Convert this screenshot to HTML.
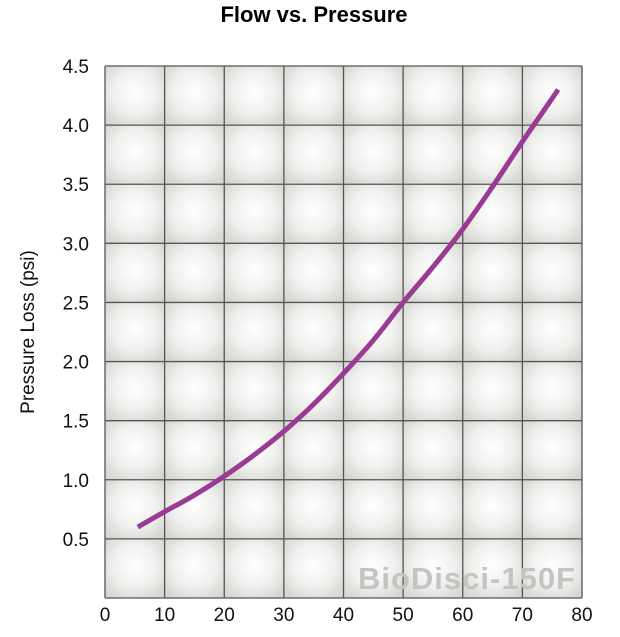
<!DOCTYPE html>
<html><head><meta charset="utf-8"><style>
body{margin:0;background:#fff;width:620px;height:637px;overflow:hidden}
svg{display:block}
</style></head><body>
<svg id="chart" width="620" height="637" xmlns="http://www.w3.org/2000/svg" font-family="Liberation Sans, sans-serif">
<defs>
<radialGradient id="cellg" cx="0.5" cy="0.45" r="0.65">
<stop offset="0" stop-color="#ffffff"/><stop offset="0.55" stop-color="#f0f0ee"/><stop offset="1" stop-color="#d6d6d3"/>
</radialGradient>
</defs>
<text x="314" y="22" text-anchor="middle" font-size="22" font-weight="bold" fill="#000">Flow vs. Pressure</text>
<g id="cells"></g>
<g id="grid"></g>
<text x="576" y="589" text-anchor="end" font-size="31" font-weight="bold" fill="#c4c4c2" letter-spacing="1">BioDisci-150F</text>
<g id="ticks"></g>
<path id="curve" fill="none" stroke="#993a93" stroke-width="5" stroke-linecap="butt"/>
<text transform="translate(34,332) rotate(-90)" text-anchor="middle" font-size="19" fill="#111">Pressure Loss (psi)</text>
</svg>
<script>
const xTicks=[0,10,20,30,40,50,60,70,80];
const yTicks=[0.5,1.0,1.5,2.0,2.5,3.0,3.5,4.0,4.5];
const flow=[5.5,10,15,20,25,30,35,40,45,50,55,60,65,70,73,76];
const pressure=[0.6,0.73,0.87,1.03,1.21,1.41,1.64,1.9,2.18,2.5,2.8,3.12,3.48,3.86,4.08,4.3];
const L=105,R=582,T=66,B=598,xMax=80,yMax=4.5;
const sx=v=>L+(R-L)*v/xMax, sy=v=>B-(B-T)*v/yMax;
const NS='http://www.w3.org/2000/svg';
const mk=(t,a,p)=>{const e=document.createElementNS(NS,t);for(const k in a)e.setAttribute(k,a[k]);p.appendChild(e);return e;};
const cells=document.getElementById('cells'),grid=document.getElementById('grid'),ticks=document.getElementById('ticks');
for(let i=0;i<8;i++)for(let j=0;j<9;j++){
 const r=mk('rect',{x:sx(i*10),y:sy((j+1)*0.5),width:sx(10)-sx(0),height:sy(0)-sy(0.5),fill:'url(#cellg)'},cells);
 
 
}
xTicks.forEach(v=>{
 const l=mk('line',{x1:sx(v),x2:sx(v),y1:T,y2:B,stroke:'#555','stroke-width':1.3},grid);
 
 
 const t=mk('text',{x:sx(v),y:621,'text-anchor':'middle','font-size':19,fill:'#111'},ticks);
 t.textContent=v;
 
 
});
[0].concat(yTicks).forEach(v=>{
 const l=mk('line',{x1:L,x2:R,y1:sy(v),y2:sy(v),stroke:'#555','stroke-width':1.3},grid);
 
 
});
yTicks.forEach(v=>{
 const t=mk('text',{x:89,y:sy(v)+7,'text-anchor':'end','font-size':19,fill:'#111'},ticks);
 t.textContent=v.toFixed(1);
 
 
});
const P=flow.map((f,i)=>[sx(f),sy(pressure[i])]);
let d='M'+P[0][0].toFixed(1)+','+P[0][1].toFixed(1);
for(let i=0;i<P.length-1;i++){
 const p0=P[Math.max(0,i-1)],p1=P[i],p2=P[i+1],p3=P[Math.min(P.length-1,i+2)];
 const c1=[p1[0]+(p2[0]-p0[0])/6,p1[1]+(p2[1]-p0[1])/6];
 const c2=[p2[0]-(p3[0]-p1[0])/6,p2[1]-(p3[1]-p1[1])/6];
 d+=' C'+c1.map(n=>n.toFixed(1)).join(',')+' '+c2.map(n=>n.toFixed(1)).join(',')+' '+p2.map(n=>n.toFixed(1)).join(',');
}
document.getElementById('curve').setAttribute('d',d);
</script>
</body></html>
